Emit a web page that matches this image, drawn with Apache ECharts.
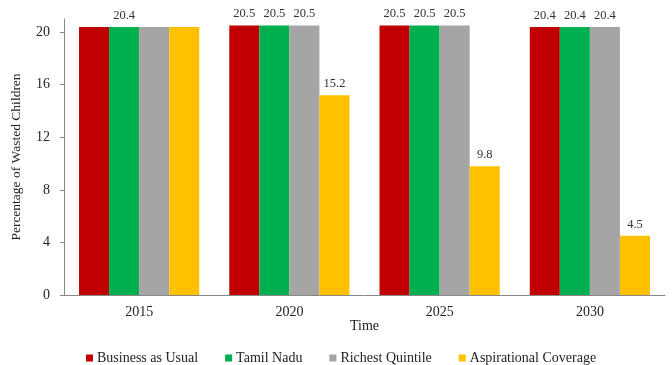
<!DOCTYPE html>
<html>
<head>
<meta charset="utf-8">
<script src="https://cdn.jsdelivr.net/npm/echarts@6/dist/echarts.min.js"></script>
<style>
  html, body { margin: 0; padding: 0; background: #fff; }
  #chart { width: 672px; height: 365px; }
</style>
</head>
<body>
<div id="chart"></div>
<script>
// Projected share of wasted children under four scenarios
const years = ['2015', '2020', '2025', '2030'];
const businessAsUsual = [20.4, 20.5, 20.5, 20.4];
const tamilNadu = [20.4, 20.5, 20.5, 20.4];
const richestQuintile = [20.4, 20.5, 20.5, 20.4];
const aspirationalCoverage = [20.4, 15.2, 9.8, 4.5];
const yTicks = [0, 4, 8, 12, 16, 20];

// which bars carry a value label, per year
const showBAU = [false, true, true, true];
const showTN = [true, true, true, true];
const showRQ = [false, true, true, true];
const showAC = [false, true, true, true];

const font = 'Liberation Serif, Times New Roman, serif';

function mkSeries(name, values, flags, color) {
  return {
    name: name,
    type: 'bar',
    barGap: '0%',
    barCategoryGap: '20%',
    itemStyle: { color: color },
    data: values.map((v, i) => ({
      value: v,
      label: { show: flags[i] }
    })),
    label: {
      position: 'top',
      distance: 5,
      color: '#333',
      fontFamily: font,
      fontSize: 12.5
    }
  };
}

const chart = echarts.init(document.getElementById('chart'));
chart.setOption({
  animation: false,
  grid: { left: 64, right: 7, top: 19, bottom: 70, outerBoundsMode: 'none', containLabel: false },
  legend: {
    top: 351,
    left: 86,
    itemWidth: 7,
    itemHeight: 7,
    itemGap: 27,
    icon: 'rect',
    padding: 0,
    textStyle: { fontFamily: font, fontSize: 14, color: '#222', padding: [0, 0, 0, -1] }
  },
  xAxis: {
    type: 'category',
    data: years,
    name: 'Time',
    nameLocation: 'middle',
    nameGap: 24,
    nameMoveOverlap: false,
    nameTextStyle: { fontFamily: font, fontSize: 14, color: '#222' },
    axisLine: { lineStyle: { color: '#888' } },
    axisTick: { alignWithLabel: true, length: 4, lineStyle: { color: '#888' } },
    axisLabel: { fontFamily: font, fontSize: 14, color: '#222', margin: 10 }
  },
  yAxis: {
    type: 'value',
    min: 0,
    max: 21,
    interval: 4,
    name: 'Percentage of Wasted Children',
    nameLocation: 'middle',
    nameGap: 41,
    nameMoveOverlap: false,
    nameTextStyle: { fontFamily: font, fontSize: 13.5, color: '#222' },
    splitLine: { show: false },
    axisLine: { show: true, lineStyle: { color: '#888' } },
    axisTick: { show: true, length: 4, lineStyle: { color: '#888' } },
    axisLabel: {
      fontFamily: font, fontSize: 14, color: '#222', margin: 14,
      showMaxLabel: false,
      formatter: v => (yTicks.includes(v) ? String(v) : '')
    }
  },
  series: [
    mkSeries('Business as Usual', businessAsUsual, showBAU, '#C00000'),
    mkSeries('Tamil Nadu', tamilNadu, showTN, '#00B050'),
    mkSeries('Richest Quintile', richestQuintile, showRQ, '#A5A5A5'),
    mkSeries('Aspirational Coverage', aspirationalCoverage, showAC, '#FFC000')
  ]
});
</script>
</body>
</html>
